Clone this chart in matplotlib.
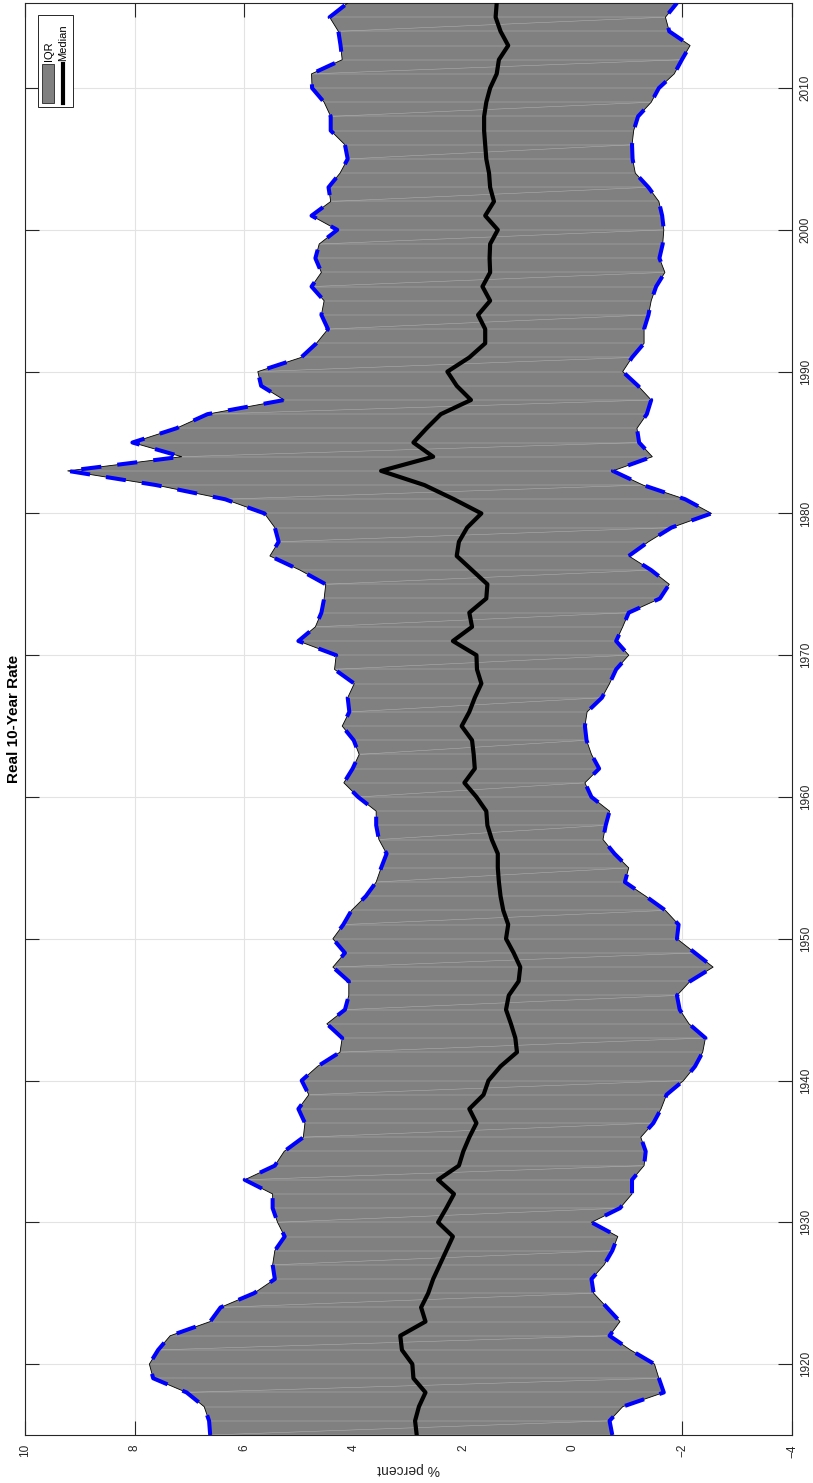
import matplotlib
matplotlib.use('Agg')
import matplotlib.pyplot as plt
import numpy as np
from matplotlib.collections import LineCollection
from matplotlib.patches import Rectangle
from matplotlib.lines import Line2D

plt.rcParams['font.family'] = ['Liberation Sans', 'DejaVu Sans']

years = np.arange(1915, 2017)

upper = [6.62, 6.64, 6.73, 7.05, 7.66, 7.73, 7.57, 7.35, 6.62, 6.43,
         5.82, 5.44, 5.48, 5.44, 5.26, 5.39, 5.48, 5.48, 5.99, 5.44,
         5.27, 4.92, 4.89, 5.01, 4.82, 4.95, 4.66, 4.25, 4.21, 4.49,
         4.16, 4.09, 4.09, 4.38, 4.16, 4.38, 4.19, 4.04, 3.78, 3.59,
         3.50, 3.40, 3.54, 3.59, 3.59, 3.92, 4.18, 4.02, 3.90, 4.00,
         4.21, 4.08, 4.11, 3.99, 4.35, 4.32, 5.01, 4.70, 4.59, 4.54,
         4.51, 4.98, 5.53, 5.37, 5.44, 5.63, 6.35, 7.61, 9.22, 7.14,
         8.04, 7.24, 6.67, 5.27, 5.69, 5.75, 4.96, 4.68, 4.47, 4.59,
         4.54, 4.77, 4.59, 4.70, 4.63, 4.30, 4.77, 4.42, 4.46, 4.25,
         4.11, 4.16, 4.42, 4.42, 4.54, 4.76, 4.77, 4.21, 4.24, 4.28,
         4.44, 4.11]

lower = [-0.72, -0.67, -0.91, -1.66, -1.57, -1.49, -1.05, -0.67, -0.86, -0.62,
         -0.38, -0.34, -0.57, -0.72, -0.82, -0.34, -0.86, -1.08, -1.08, -1.30,
         -1.33, -1.24, -1.47, -1.61, -1.71, -2.02, -2.23, -2.37, -2.42, -2.12,
         -1.95, -1.90, -2.14, -2.56, -2.23, -1.90, -1.93, -1.69, -1.33, -0.95,
         -1.02, -0.76, -0.55, -0.60, -0.67, -0.34, -0.22, -0.48, -0.34, -0.25,
         -0.22, -0.26, -0.53, -0.67, -0.79, -1.02, -0.79, -0.91, -1.02, -1.59,
         -1.76, -1.43, -1.02, -1.38, -1.80, -2.53, -2.05, -1.28, -0.73, -1.45,
         -1.21, -1.17, -1.35, -1.43, -1.19, -0.91, -1.08, -1.30, -1.30, -1.38,
         -1.43, -1.52, -1.68, -1.58, -1.64, -1.66, -1.63, -1.57, -1.38, -1.14,
         -1.09, -1.08, -1.11, -1.19, -1.43, -1.57, -1.85, -1.99, -2.14, -1.76,
         -1.69, -1.90]

median = [2.85, 2.88, 2.81, 2.69, 2.91, 2.93, 3.12, 3.15, 2.69, 2.77,
          2.64, 2.55, 2.43, 2.31, 2.19, 2.46, 2.31, 2.17, 2.46, 2.08,
          2.00, 1.89, 1.76, 1.89, 1.63, 1.54, 1.32, 1.02, 1.05, 1.13,
          1.22, 1.17, 0.99, 0.96, 1.08, 1.22, 1.18, 1.27, 1.32, 1.35,
          1.37, 1.37, 1.48, 1.56, 1.58, 1.76, 1.98, 1.79, 1.81, 1.84,
          2.03, 1.89, 1.79, 1.67, 1.75, 1.76, 2.19, 1.84, 1.89, 1.58,
          1.56, 1.84, 2.12, 2.08, 1.93, 1.67, 2.17, 2.71, 3.50, 2.55,
          2.91, 2.67, 2.41, 1.86, 2.12, 2.29, 1.89, 1.60, 1.60, 1.73,
          1.51, 1.65, 1.51, 1.52, 1.51, 1.37, 1.60, 1.44, 1.51, 1.53,
          1.58, 1.60, 1.62, 1.62, 1.58, 1.51, 1.39, 1.35, 1.18, 1.32,
          1.41, 1.39]

pct_ticks = [-4, -2, 0, 2, 4, 6, 8, 10]
year_ticks = [1920, 1930, 1940, 1950, 1960, 1970, 1980, 1990, 2000, 2010]

W, H = 813, 1483
fig = plt.figure(figsize=(W / 100, H / 100), dpi=100)
ax = fig.add_axes([25 / W, 1 - 1435 / H, (792 - 25) / W, (1435 - 3) / H])


def px(x, y):
    return x / W, 1 - y / H


# IQR band
ax.fill_betweenx(years, lower, upper, facecolor='#808080', edgecolor='none', zorder=2)

# faint tessellation seams like the original rendering
seams = []
for i in range(0, len(years) - 1):
    seams.append([(lower[i], years[i]), (upper[i], years[i])])
    if i % 3 == 0:
        seams.append([(upper[i], years[i]), (lower[i + 1], years[i + 1])])
ax.add_collection(LineCollection(seams, colors='#b4b4b4', linewidths=0.35, zorder=2.5))

ax.plot(upper, years, color='k', lw=0.6, zorder=3)
ax.plot(lower, years, color='k', lw=0.6, zorder=3)

ax.plot(upper, years, color='#0000ff', lw=2.9, dashes=(5, 4), zorder=4)
ax.plot(lower, years, color='#0000ff', lw=2.9, dashes=(5, 4), zorder=4)
ax.plot(median, years, color='k', lw=3, zorder=5)

ax.set_xlim(10, -4)
ax.set_ylim(1915, 2016)
ax.set_xticks(pct_ticks)
ax.set_yticks(year_ticks)
ax.set_axisbelow(True)
ax.grid(True, color='#e3e3e3', lw=0.8)
for s in ax.spines.values():
    s.set_color('#262626')
    s.set_linewidth(0.8)
ax.tick_params(axis='both', direction='in', length=10, width=0.8, color='#262626',
               labelsize=8.5, labelcolor='#262626')
ax.tick_params(axis='x', top=True, bottom=True, labelrotation=90, pad=6.5)
ax.tick_params(axis='y', left=True, right=True, labelleft=False, labelright=True,
               labelrotation=90, pad=5.5)
for lab in ax.get_yticklabels():
    lab.set_verticalalignment('center')

ax.text(-0.0145, 0.5, 'Real 10-Year Rate', transform=ax.transAxes, rotation=90,
        ha='center', va='center', fontsize=11, fontweight='bold')
ax.text(0.5, -0.0237, '% percent', transform=ax.transAxes, rotation=180,
        ha='center', va='center', fontsize=10, color='#262626')

# legend, drawn rotated like the rest of the chart
x0, y0 = px(38, 107)
x1, y1 = px(73, 15)
fig.add_artist(Rectangle((x0, y0), x1 - x0, y1 - y0, transform=fig.transFigure,
                         facecolor='white', edgecolor='#262626', lw=0.7, zorder=10))
a0, b0 = px(42, 103)
a1, b1 = px(54, 64)
fig.add_artist(Rectangle((a0, b0), a1 - a0, b1 - b0, transform=fig.transFigure,
                         facecolor='#808080', edgecolor='#262626', lw=0.6, zorder=11))
lx, ly0 = px(63, 103)
_, ly1 = px(63, 64)
fig.add_artist(Line2D([lx, lx], [ly0, ly1], transform=fig.transFigure, color='k', lw=3, zorder=11))
tx, ty = px(48.5, 61)
fig.text(tx, ty, 'IQR', rotation=90, ha='center', va='bottom', fontsize=8, zorder=12)
tx, ty = px(63.5, 61)
fig.text(tx, ty, 'Median', rotation=90, ha='center', va='bottom', fontsize=8, zorder=12)

fig.savefig('out.png', dpi=100)
